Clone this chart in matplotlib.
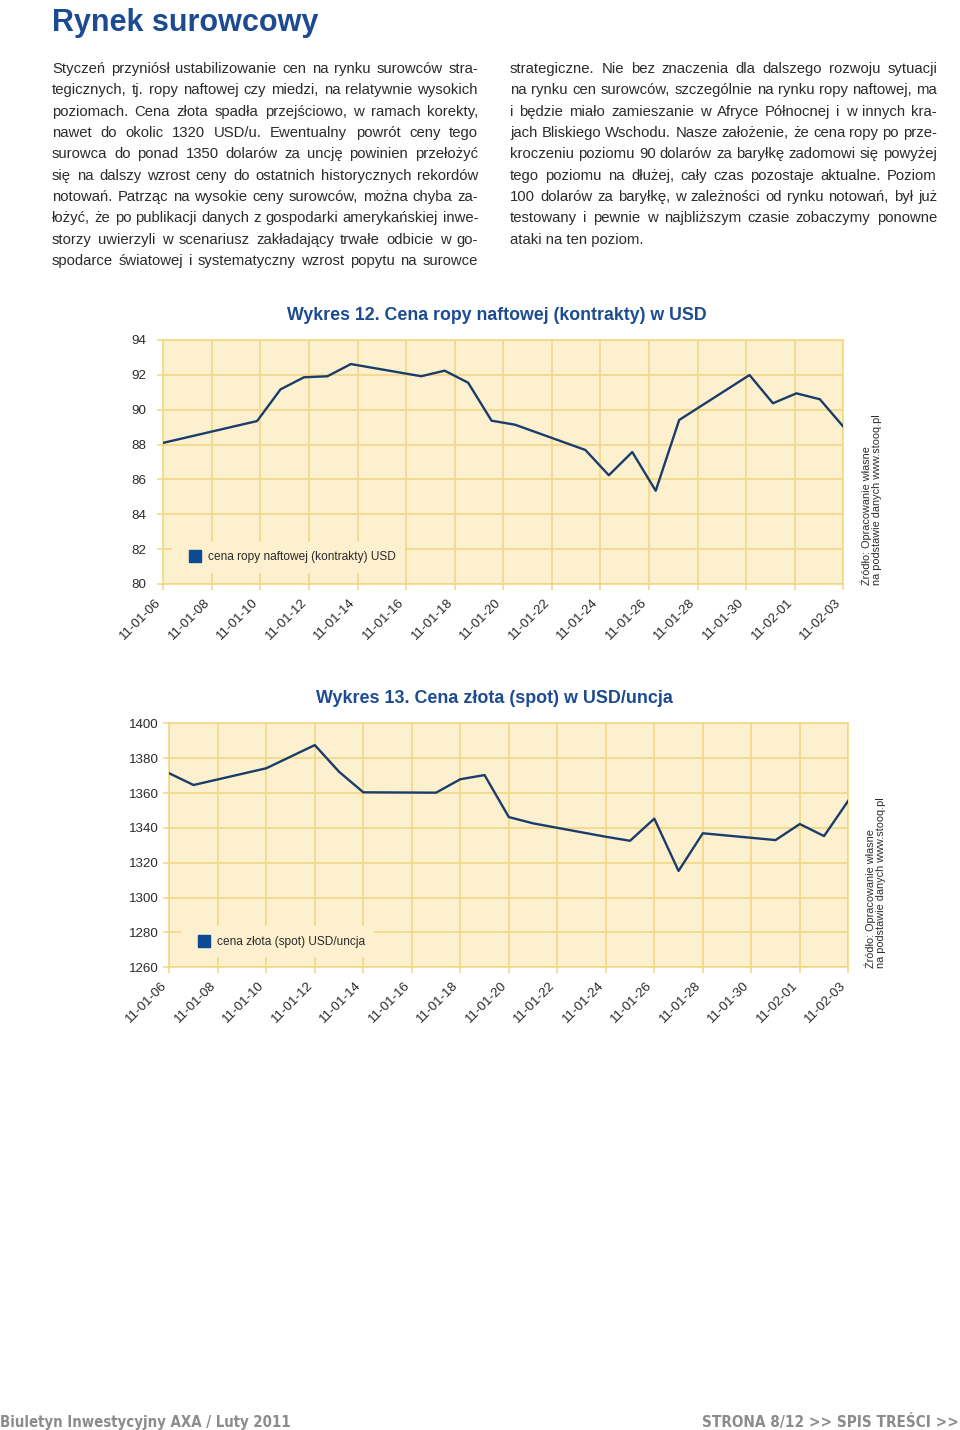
import matplotlib
matplotlib.use('Agg')
import matplotlib.pyplot as plt
import matplotlib.transforms as mtransforms
from matplotlib.lines import Line2D
import numpy as np
import pandas as pd

# ---- data ----
oil_dates = ['2011-01-06', '2011-01-10', '2011-01-11', '2011-01-12', '2011-01-13',
             '2011-01-14', '2011-01-17', '2011-01-18', '2011-01-19', '2011-01-20',
             '2011-01-21', '2011-01-24', '2011-01-25', '2011-01-26', '2011-01-27',
             '2011-01-28', '2011-01-31', '2011-02-01', '2011-02-02', '2011-02-03',
             '2011-02-04']
oil_values = [88.10, 89.35, 91.17, 91.86, 91.92, 92.62, 91.92, 92.24, 91.55, 89.37,
              89.14, 87.69, 86.24, 87.57, 85.35, 89.41, 91.99, 90.37, 90.94, 90.60,
              89.03]

gold_dates = ['2011-01-06', '2011-01-07', '2011-01-10', '2011-01-12', '2011-01-13',
              '2011-01-14', '2011-01-17', '2011-01-18', '2011-01-19', '2011-01-20',
              '2011-01-21', '2011-01-24', '2011-01-25', '2011-01-26', '2011-01-27',
              '2011-01-28', '2011-01-31', '2011-02-01', '2011-02-02', '2011-02-03']
gold_values = [1371.3, 1364.6, 1374.2, 1387.5, 1372.2, 1360.4, 1360.2, 1367.9, 1370.3,
               1346.2, 1342.6, 1334.9, 1332.6, 1345.3, 1315.3, 1336.9, 1333.0, 1342.2,
               1335.3, 1355.6]

tick_labels = ['11-01-06', '11-01-08', '11-01-10', '11-01-12', '11-01-14', '11-01-16',
               '11-01-18', '11-01-20', '11-01-22', '11-01-24', '11-01-26', '11-01-28',
               '11-01-30', '11-02-01', '11-02-03']
oil_yticks = [80, 82, 84, 86, 88, 90, 92, 94]
gold_yticks = [1260, 1280, 1300, 1320, 1340, 1360, 1380, 1400]

page_title = 'Rynek surowcowy'
left_lines = [
    'Styczeń przyniósł ustabilizowanie cen na rynku surowców stra-',
    'tegicznych, tj. ropy naftowej czy miedzi, na relatywnie wysokich',
    'poziomach. Cena złota spadła przejściowo, w ramach korekty,',
    'nawet do okolic 1320 USD/u. Ewentualny powrót ceny tego',
    'surowca do ponad 1350 dolarów za uncję powinien przełożyć',
    'się na dalszy wzrost ceny do ostatnich historycznych rekordów',
    'notowań. Patrząc na wysokie ceny surowców, można chyba za-',
    'łożyć, że po publikacji danych z gospodarki amerykańskiej inwe-',
    'storzy uwierzyli w scenariusz zakładający trwałe odbicie w go-',
    'spodarce światowej i systematyczny wzrost popytu na surowce',
]
right_lines = [
    'strategiczne. Nie bez znaczenia dla dalszego rozwoju sytuacji',
    'na rynku cen surowców, szczególnie na rynku ropy naftowej, ma',
    'i będzie miało zamieszanie w Afryce Północnej i w innych kra-',
    'jach Bliskiego Wschodu. Nasze założenie, że cena ropy po prze-',
    'kroczeniu poziomu 90 dolarów za baryłkę zadomowi się powyżej',
    'tego poziomu na dłużej, cały czas pozostaje aktualne. Poziom',
    '100 dolarów za baryłkę, w zależności od rynku notowań, był już',
    'testowany i pewnie w najbliższym czasie zobaczymy ponowne',
    'ataki na ten poziom.',
]
source_text = 'Źródło: Opracowanie własne\nna podstawie danych www.stooq.pl'

# ---- style ----
BLUE = '#1c4b91'
LINE = '#1a3c6b'
BG = '#fdf0cf'
GRID = '#f1d77f'
TXT = '#2b2b2b'

BODY_FONT = 'Liberation Sans'
SANS = 'Liberation Sans'
plt.rcParams['font.family'] = [SANS, 'DejaVu Sans']

W, H = 960, 1430
fig = plt.figure(figsize=(W / 100, H / 100), dpi=100)
renderer = fig.canvas.get_renderer()


def fx(px):
    return px / W


def fy(py):
    return 1 - py / H


def width_of(t):
    return t.get_window_extent(renderer).width


# ---- page title ----
fig.text(fx(52), fy(31), page_title, fontsize=22, fontweight='bold', color=BLUE,
         family=SANS, va='baseline')

# ---- body text, justified ----
body_size = 11.0
probe = fig.text(0, 0, '', fontsize=body_size, family=BODY_FONT)
maxw = 0
for ln in left_lines + right_lines:
    probe.set_text(ln)
    maxw = max(maxw, width_of(probe))
probe.remove()
body_size = min(body_size, body_size * 0.995 * 426 / maxw)


def justify(lines, x0, x1, y0, step, last_flush=False):
    for i, ln in enumerate(lines):
        y = fy(y0 + i * step)
        last = (i == len(lines) - 1) and last_flush
        if last:
            fig.text(fx(x0), y, ln, fontsize=body_size, family=BODY_FONT,
                     color=TXT, va='baseline')
            continue
        words = ln.split()
        texts = [fig.text(0, y, w, fontsize=body_size, family=BODY_FONT,
                          color=TXT, va='baseline') for w in words]
        widths = [width_of(t) for t in texts]
        gap = (x1 - x0 - sum(widths)) / (len(words) - 1)
        x = x0
        for t, w in zip(texts, widths):
            t.set_x(fx(x))
            x += w + gap


justify(left_lines, 52, 478, 73, 21.33)
justify(right_lines, 510, 937, 73, 21.33, last_flush=True)


# ---- charts ----
def draw_chart(box, dates, values, yticks, title, title_x, title_y, title_size,
               label, leg_xy, src_x, src_y, ypad):
    left, right, top, bottom = box
    ax = fig.add_axes([fx(left), fy(bottom), (right - left) / W, (bottom - top) / H])
    d = pd.to_datetime(dates)
    x = np.asarray((d - d[0]).days, dtype=float)
    ax.set_facecolor(BG)
    ax.plot(x, values, color=LINE, lw=1.7, zorder=3)
    ax.set_xlim(0, x[-1])
    ax.set_ylim(yticks[0], yticks[-1])
    ax.set_yticks(yticks)
    ax.set_xticks(np.linspace(0, x[-1], len(tick_labels)))
    ax.set_xticklabels(tick_labels, rotation=45, ha='right', va='center',
                       rotation_mode='anchor')
    ax.grid(True, color=GRID, lw=1.1)
    ax.set_axisbelow(True)
    for s in ax.spines.values():
        s.set_color(GRID)
        s.set_linewidth(1.1)
    ax.tick_params(axis='both', colors=GRID, labelcolor=TXT, labelsize=9.6,
                   length=4.5, width=1.1)
    ax.tick_params(axis='y', pad=ypad)
    ax.tick_params(axis='x', pad=7.5)
    shift = mtransforms.ScaledTranslation(-0.04, 0, fig.dpi_scale_trans)
    for lab in ax.get_xticklabels():
        lab.set_transform(lab.get_transform() + shift)

    handle = Line2D([], [], marker='s', color='#0d4a94', ls='none', markersize=8.5)
    ax.legend([handle], [label], loc='center left', bbox_to_anchor=leg_xy,
              fontsize=8.6, frameon=True, facecolor=BG, edgecolor='none',
              framealpha=1, fancybox=False, borderpad=0.8, handlelength=2.2,
              handletextpad=0.0, borderaxespad=0, labelcolor=TXT)

    fig.text(fx(title_x), fy(title_y), title, fontsize=title_size, fontweight='bold',
             color=BLUE, ha='center', va='baseline')
    fig.text(fx(src_x), fy(src_y), source_text, rotation=90, ha='left', va='bottom',
             fontsize=7.8, color=TXT, linespacing=0.95, multialignment='left')
    return ax


draw_chart((163.3, 843.3, 340, 584), oil_dates, oil_values, oil_yticks,
           'Wykres 12. Cena ropy naftowej (kontrakty) w USD', 497, 320, 12.8,
           'cena ropy naftowej (kontrakty) USD', (0.013, 0.109), 861, 585, 8)

draw_chart((169.3, 848.3, 723.3, 967.3), gold_dates, gold_values, gold_yticks,
           'Wykres 13. Cena złota (spot) w USD/uncja', 494.5, 702.7, 12.9,
           'cena złota (spot) USD/uncja', (0.017, 0.104), 865, 968, 3)

# ---- footer ----
FOOT = '#8c8c8c'
lt = fig.text(fx(0), fy(1426.5), 'Biuletyn Inwestycyjny AXA / Luty 2011', fontsize=12,
              fontweight='bold', color=FOOT, family='DejaVu Sans', va='baseline',
              fontstretch='condensed')
lt.set_fontsize(12 * 292 / width_of(lt))
rt = fig.text(fx(959), fy(1426.5), 'STRONA 8/12 >> SPIS TREŚCI >>', fontsize=12,
              fontweight='bold', color=FOOT, family='DejaVu Sans', va='baseline',
              ha='right', fontstretch='condensed')
rt.set_fontsize(12 * 256 / width_of(rt))

fig.savefig('out.png', dpi=100)
